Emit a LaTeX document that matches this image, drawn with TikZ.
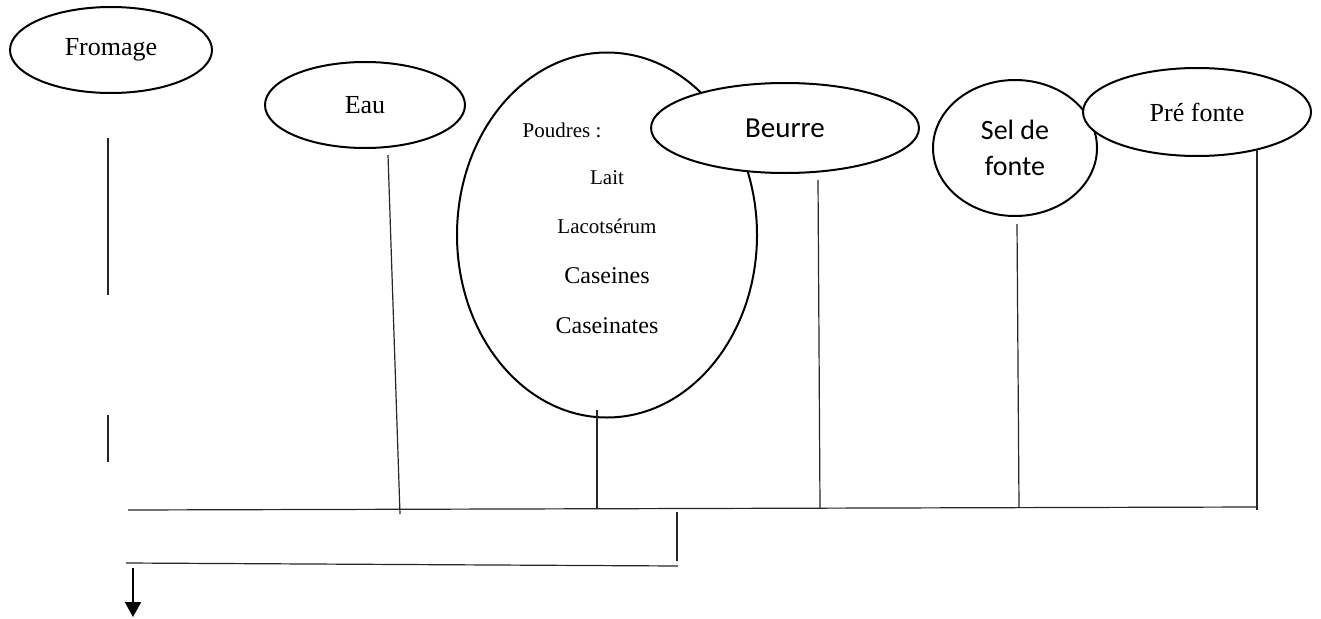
\documentclass[tikz,border=0pt]{standalone}
\usepackage{fontspec}
\setmainfont{Liberation Serif}
\newfontfamily\calibri{Carlito}
\usetikzlibrary{shapes.geometric,arrows.meta}
\begin{document}
\begin{tikzpicture}[x=1pt,y=-1pt,
  blob/.style={ellipse,draw=black,fill=white,line width=2pt,inner sep=0pt,align=center},
  serif/.style={font=\fontsize{26}{30}\selectfont},
  small/.style={font=\fontsize{21}{24}\selectfont},
  medium/.style={font=\fontsize{24}{28}\selectfont},
  sans/.style={font=\calibri\fontsize{29}{36}\selectfont},
  wire/.style={draw=black!85,line width=1.2pt},
  flow/.style={draw=black,line width=2pt,-{Triangle[width=16pt,length=15pt]}}]
\useasboundingbox (0,0) rectangle (1321,618);

% ingredients
\node[blob,serif,minimum width=202pt,minimum height=86pt] (fro) at (111,50) {Fromage};
\node[blob,serif,minimum width=200pt,minimum height=86pt] (eau) at (365,105) {Eau};
\node[blob,minimum width=300pt,minimum height=365pt] (pou) at (607,235) {};
\node[small] (poutitle) at (562,130) {Poudres :};
\node[small] (lait) at (607,178) {Lait};
\node[small] (lacto) at (607,226) {Lacotsérum};
\node[medium] (cas) at (607,276) {Caseines};
\node[medium] (casn) at (607,326) {Caseinates};
\node[blob,sans,minimum width=268pt,minimum height=90pt] (beu) at (785,128) {Beurre};
\node[blob,font=\calibri\fontsize{28}{36}\selectfont,minimum width=164pt,minimum height=136pt] (sel) at (1015,148) {Sel de\\fonte};
\node[blob,serif,minimum width=228pt,minimum height=88pt] (pre) at (1197,112) {Pré fonte};

% connector end points
\coordinate (froA) at (108,138);
\coordinate (froB) at (108,295);
\coordinate (froC) at (108,415);
\coordinate (froD) at (108,462);
\coordinate (busL) at (128,510);
\coordinate (busR) at (1257,507);
\coordinate (eauA) at (388,155);
\coordinate (eauB) at (400,514);
\coordinate (pouA) at (597,410);
\coordinate (pouB) at (597,509);
\coordinate (beuA) at (818,180);
\coordinate (beuB) at (820,508);
\coordinate (selA) at (1017,224);
\coordinate (selB) at (1019,508);
\coordinate (preA) at (1257,150);
\coordinate (preB) at (1257,510);
\coordinate (drpA) at (677,512);
\coordinate (drpB) at (677,561);
\coordinate (retR) at (678,566);
\coordinate (retL) at (126,563);
\coordinate (outA) at (133,568);
\coordinate (outB) at (133,617);

% feed lines
\draw[wire] (froA) -- (froB);
\draw[wire] (froC) -- (froD);
\draw[wire] (eauA) -- (eauB);
\draw[wire] (pouA) -- (pouB);
\draw[wire] (beuA) -- (beuB);
\draw[wire] (selA) -- (selB);
\draw[wire] (preA) -- (preB);

% collector and return
\draw[wire] (busL) -- (busR);
\draw[wire] (drpA) -- (drpB);
\draw[wire] (retL) -- (retR);
\draw[flow] (outA) -- (outB);
\end{tikzpicture}
\end{document}
